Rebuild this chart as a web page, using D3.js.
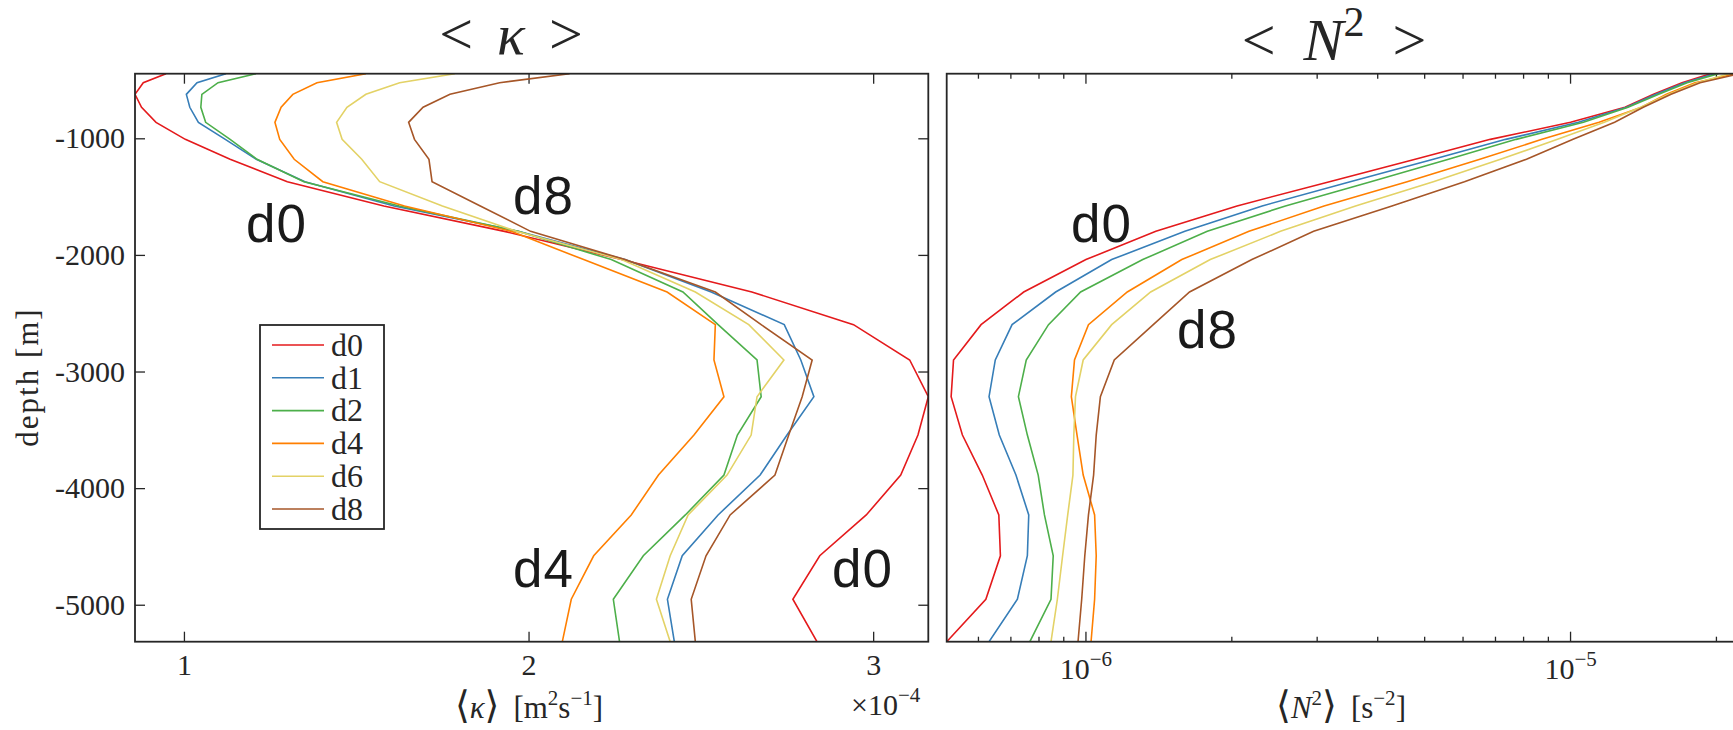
<!DOCTYPE html>
<html>
<head>
<meta charset="utf-8">
<script src="https://cdn.jsdelivr.net/npm/d3@7"></script>
<style>
  body { margin: 0; background: #fff; }
  text { font-family: "Liberation Serif", "DejaVu Serif", serif; fill: #262626; }
  .tag { font-family: "Liberation Sans", Arial, sans-serif; font-size: 53px; fill: #1a1a1a; letter-spacing: 1px; }
</style>
</head>
<body>
<div id="chart"></div>
<script>
// depth levels [m]
const depth = [-446, -523, -623, -734, -863, -1009, -1180, -1372, -1580, -1798, -2040,
  -2318, -2598, -2901, -3216, -3545, -3888, -4230, -4580, -4953, -5317];

const series = ["d0", "d1", "d2", "d4", "d6", "d8"];
const seriesColors = ["#e41a1c", "#377eb8", "#4daf4a", "#ff7f00", "#e3d266", "#a65628"];

// <kappa> in units of 1e-4 m^2/s
const kappaD0 = [0.948, 0.882, 0.858, 0.877, 0.919, 1.004, 1.134, 1.30, 1.58, 1.93, 2.27, 2.648, 2.943, 3.106, 3.16, 3.13, 3.08, 2.98, 2.845, 2.767, 2.837];
const kappaD1 = [1.122, 1.038, 1.007, 1.017, 1.042, 1.12, 1.21, 1.351, 1.61, 1.97, 2.28, 2.53, 2.742, 2.79, 2.828, 2.75, 2.672, 2.55, 2.446, 2.403, 2.423];
const kappaD2 = [1.209, 1.099, 1.052, 1.049, 1.063, 1.134, 1.212, 1.348, 1.625, 1.97, 2.24, 2.448, 2.55, 2.663, 2.675, 2.606, 2.567, 2.455, 2.333, 2.246, 2.264];
const kappaD4 = [1.528, 1.386, 1.316, 1.282, 1.264, 1.278, 1.32, 1.403, 1.64, 1.95, 2.16, 2.402, 2.542, 2.538, 2.567, 2.48, 2.377, 2.298, 2.189, 2.124, 2.098];
const kappaD6 = [1.786, 1.626, 1.528, 1.473, 1.443, 1.459, 1.516, 1.568, 1.75, 1.965, 2.27, 2.484, 2.639, 2.741, 2.663, 2.646, 2.576, 2.463, 2.411, 2.371, 2.411];
const kappaD8 = [2.119, 1.916, 1.772, 1.694, 1.652, 1.669, 1.711, 1.72, 1.86, 2.006, 2.28, 2.542, 2.675, 2.823, 2.794, 2.755, 2.715, 2.585, 2.515, 2.472, 2.484];

// <N^2> in units of 1e-6 s^-2
const n2D0 = [19.45, 16.98, 14.83, 12.95, 10.0, 6.83, 4.78, 3.18, 2.05, 1.394, 1.0, 0.744, 0.6075, 0.533, 0.527, 0.556, 0.611, 0.661, 0.666, 0.6215, 0.516];
const n2D1 = [19.85, 17.2, 15.0, 13.05, 10.38, 7.35, 5.21, 3.51, 2.31, 1.60, 1.13, 0.866, 0.704, 0.650, 0.631, 0.6625, 0.717, 0.762, 0.757, 0.722, 0.631];
const n2D2 = [20.18, 17.4, 15.2, 13.14, 10.63, 7.72, 5.6, 3.87, 2.58, 1.78, 1.31, 0.975, 0.837, 0.753, 0.7255, 0.757, 0.797, 0.821, 0.856, 0.847, 0.766];
const n2D4 = [21.9, 18.06, 15.77, 14.01, 11.45, 8.73, 6.5, 4.6, 3.10, 2.17, 1.577, 1.217, 1.012, 0.947, 0.933, 0.9585, 0.987, 1.042, 1.05, 1.042, 1.0245];
const n2D6 = [21.2, 18.3, 15.95, 13.95, 11.74, 9.4, 7.17, 5.21, 3.6, 2.52, 1.805, 1.36, 1.13, 0.987, 0.9515, 0.944, 0.940, 0.917, 0.895, 0.873, 0.847];
const n2D8 = [22.37, 18.5, 16.12, 14.13, 12.33, 10.12, 8.11, 6.04, 4.28, 2.95, 2.2, 1.636, 1.377, 1.144, 1.071, 1.05, 1.037, 1.012, 0.9945, 0.98, 0.963];

const kappaTicks = [1, 2, 3];
const depthTicks = [-1000, -2000, -3000, -4000, -5000];

const kappaData = [kappaD0, kappaD1, kappaD2, kappaD4, kappaD6, kappaD8];
const n2Data = [n2D0, n2D1, n2D2, n2D4, n2D6, n2D8];

const width = 1733, height = 730;
const plotTop = 73.7, plotBottom = 641.7;
const left1 = 135, right1 = 928.3;
const left2 = 946.7, right2 = 1740;
const axisColor = "#262626";

const svg = d3.select("#chart").append("svg")
    .attr("width", width)
    .attr("height", height);

const y = d3.scaleLinear()
    .domain(d3.extent(depth))
    .range([plotBottom, plotTop]);

const xK = d3.scaleLinear()
    .domain(d3.extent(kappaData.flat()))
    .range([left1, right1]);

const xN = d3.scaleLog()
    .domain(d3.extent(n2Data.flat()))
    .range([left2, right2]);

// clip paths
const defs = svg.append("defs");
defs.append("clipPath").attr("id", "clipK").append("rect")
    .attr("x", left1).attr("y", plotTop).attr("width", right1 - left1).attr("height", plotBottom - plotTop);
defs.append("clipPath").attr("id", "clipN").append("rect")
    .attr("x", left2).attr("y", plotTop).attr("width", right2 - left2).attr("height", plotBottom - plotTop);

function styleAxis(g) {
  g.select(".domain").remove();
  g.selectAll(".tick line").attr("stroke", axisColor).attr("stroke-width", 1.3);
  g.selectAll(".tick text").style("font-family", "'Liberation Serif', serif")
    .style("font-size", "30px").attr("fill", axisColor);
}

// ---- left panel: kappa ----
svg.append("g")
    .attr("transform", "translate(" + left1 + ",0)")
    .call(d3.axisLeft(y).tickValues(depthTicks).tickSize(-10).tickPadding(10)
      .tickFormat(function(d) { return String(d); }))
    .call(styleAxis);

svg.append("g")
    .attr("transform", "translate(" + right1 + ",0)")
    .call(d3.axisRight(y).tickValues(depthTicks).tickSize(-10).tickFormat(""))
    .call(styleAxis);

const xAxisK = svg.append("g")
    .attr("transform", "translate(0," + plotBottom + ")")
    .call(d3.axisBottom(xK).tickValues(kappaTicks).tickSize(-10)
      .tickFormat(function(d) { return String(d); }))
    .call(styleAxis);
xAxisK.selectAll(".tick text").attr("y", 33).attr("dy", null);

svg.append("g")
    .attr("transform", "translate(0," + plotTop + ")")
    .call(d3.axisTop(xK).tickValues(kappaTicks).tickSize(-10).tickFormat(""))
    .call(styleAxis);

const line = function(xs, arr) {
  return d3.line()
    .x(function(d, i) { return xs(arr[i]); })
    .y(function(d) { return y(d); })(depth);
};

svg.append("g").attr("clip-path", "url(#clipK)")
    .selectAll("path")
    .data(kappaData)
    .enter().append("path")
    .attr("d", function(d) { return line(xK, d); })
    .attr("fill", "none")
    .attr("stroke-width", 1.6)
    .attr("stroke", function(d, i) { return seriesColors[i]; });

svg.append("rect")
    .attr("x", left1).attr("y", plotTop)
    .attr("width", right1 - left1).attr("height", plotBottom - plotTop)
    .attr("fill", "none").attr("stroke", axisColor).attr("stroke-width", 1.8);

// ---- right panel: N^2 ----
const logTicks = xN.ticks();
function isMajor(v) { return Math.abs(Math.log10(v) - Math.round(Math.log10(v))) < 1e-6; }

[plotBottom, plotTop].forEach(function(yy) {
  const dir = yy === plotBottom ? -1 : 1;
  svg.append("g").selectAll("line")
    .data(logTicks)
    .enter().append("line")
    .attr("x1", function(d) { return xN(d); })
    .attr("x2", function(d) { return xN(d); })
    .attr("y1", yy)
    .attr("y2", function(d) { return yy + dir * (isMajor(d) ? 10 : 5); })
    .attr("stroke", axisColor)
    .attr("stroke-width", 1.3);
});

const majorLabels = svg.append("g").selectAll("text")
    .data(logTicks.filter(isMajor))
    .enter().append("text")
    .attr("x", function(d) { return xN(d); })
    .attr("y", 679)
    .attr("text-anchor", "middle")
    .style("font-size", "30px");
majorLabels.append("tspan").text("10");
majorLabels.append("tspan")
    .attr("dy", -13)
    .style("font-size", "21px")
    .text(function(d) { return "\u2212" + Math.abs(Math.round(Math.log10(d * 1e-6))); });

svg.append("g").attr("clip-path", "url(#clipN)")
    .selectAll("path")
    .data(n2Data)
    .enter().append("path")
    .attr("d", function(d) { return line(xN, d); })
    .attr("fill", "none")
    .attr("stroke-width", 1.6)
    .attr("stroke", function(d, i) { return seriesColors[i]; });

svg.append("rect")
    .attr("x", left2).attr("y", plotTop)
    .attr("width", right2 - left2).attr("height", plotBottom - plotTop)
    .attr("fill", "none").attr("stroke", axisColor).attr("stroke-width", 1.8);

// ---- titles ----
const t1 = svg.append("text").attr("x", 511).attr("y", 54).attr("text-anchor", "middle");
t1.append("tspan").style("font-size", "60px").text("<");
t1.append("tspan").attr("dx", 24).style("font-size", "58px").style("font-style", "italic").text("\u03BA");
t1.append("tspan").attr("dx", 24).style("font-size", "60px").text(">");

const t2 = svg.append("text").attr("x", 1334).attr("y", 60).attr("text-anchor", "middle");
t2.append("tspan").style("font-size", "60px").text("<");
t2.append("tspan").attr("dx", 28).style("font-size", "60px").style("font-style", "italic").text("N");
t2.append("tspan").attr("dy", -24).style("font-size", "42px").text("2");
t2.append("tspan").attr("dx", 28).attr("dy", 24).style("font-size", "60px").text(">");

// ---- axis labels ----
svg.append("text")
    .attr("transform", "translate(38,377) rotate(-90)")
    .attr("text-anchor", "middle")
    .style("font-size", "31px")
    .style("letter-spacing", "2px")
    .text("depth [m]");

const xl1 = svg.append("text").attr("x", 529).attr("y", 718).attr("text-anchor", "middle").style("font-size", "31px");
xl1.append("tspan").style("font-size", "38px").text("\u27E8");
xl1.append("tspan").style("font-style", "italic").text("\u03BA");
xl1.append("tspan").style("font-size", "38px").text("\u27E9");
xl1.append("tspan").attr("dx", 14).text("[m");
xl1.append("tspan").attr("dy", -13).style("font-size", "21px").text("2");
xl1.append("tspan").attr("dy", 13).text("s");
xl1.append("tspan").attr("dy", -13).style("font-size", "21px").text("\u22121");
xl1.append("tspan").attr("dy", 13).text("]");

const mult = svg.append("text").attr("x", 851).attr("y", 715).style("font-size", "30px");
mult.append("tspan").text("\u00D710");
mult.append("tspan").attr("dy", -13).style("font-size", "21px").text("\u22124");

const xl2 = svg.append("text").attr("x", 1341).attr("y", 718).attr("text-anchor", "middle").style("font-size", "31px");
xl2.append("tspan").style("font-size", "38px").text("\u27E8");
xl2.append("tspan").style("font-style", "italic").text("N");
xl2.append("tspan").attr("dy", -13).style("font-size", "21px").text("2");
xl2.append("tspan").attr("dy", 13).style("font-size", "38px").text("\u27E9");
xl2.append("tspan").attr("dx", 14).text("[s");
xl2.append("tspan").attr("dy", -13).style("font-size", "21px").text("\u22122");
xl2.append("tspan").attr("dy", 13).text("]");

// ---- big series tags ----
const tags = [
  { t: "d0", x: 246, y: 242 },
  { t: "d8", x: 513, y: 214 },
  { t: "d4", x: 513, y: 587 },
  { t: "d0", x: 832, y: 587 },
  { t: "d0", x: 1071, y: 242 },
  { t: "d8", x: 1177, y: 348 }
];
svg.append("g").selectAll("text")
    .data(tags)
    .enter().append("text")
    .attr("class", "tag")
    .attr("x", function(d) { return d.x; })
    .attr("y", function(d) { return d.y; })
    .text(function(d) { return d.t; });

// ---- legend ----
const legend = svg.append("g").attr("transform", "translate(260,325)");
legend.append("rect")
    .attr("width", 124).attr("height", 204)
    .attr("fill", "#fff").attr("stroke", axisColor).attr("stroke-width", 1.8);

const entry = legend.selectAll(".legend")
    .data(series)
    .enter().append("g")
    .attr("class", "legend")
    .attr("transform", function(d, i) { return "translate(0," + (20 + i * 32.8) + ")"; });

entry.append("line")
    .attr("x1", 12).attr("x2", 64)
    .attr("stroke-width", 1.6)
    .attr("stroke", function(d, i) { return seriesColors[i]; });

entry.append("text")
    .attr("x", 71)
    .attr("dy", "0.34em")
    .style("font-size", "32px")
    .text(function(d) { return d; });
</script>
</body>
</html>
